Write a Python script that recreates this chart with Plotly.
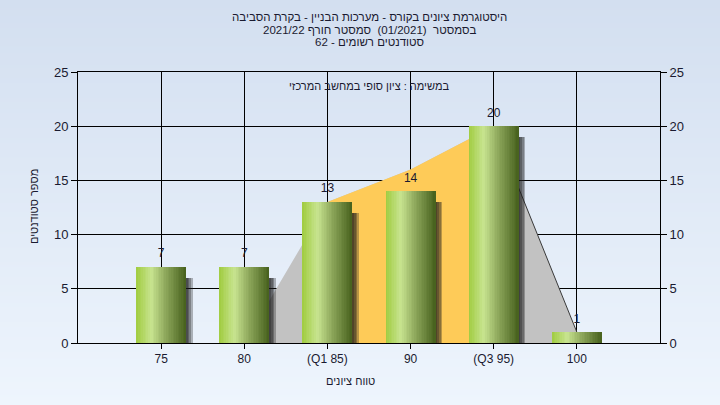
import base64, struct, zlib
import plotly.graph_objects as go

# ---------------- data ----------------
categories = ["75", "80", "(Q1 85)", "90", "(Q3 95)", "100"]
counts = [7, 7, 13, 14, 20, 1]
curve = [0, 0, 13, 16, 20, 1]
quartile_idx = [2, 3, 4]
y_ticks = [0, 5, 10, 15, 20, 25]

RLE, PDF = "\u202b", "\u202c"
title_lines = [
    "היסטוגרמת ציונים בקורס - מערכות הבניין - בקרת הסביבה",
    "בסמסטר  (01/2021)  סמסטר חורף 2021/22",
    "סטודנטים רשומים - 62",
]
subtitle = "במשימה : ציון סופי במחשב המרכזי"
x_title = "טווח ציונים"
y_title = "מספר סטודנטים"

W, H = 720, 405
FONT = "Liberation Sans"
TXT = "#1a1a30"


def rtl(s):
    return RLE + s + PDF


# ---------- background gradient png ----------
def gradient_png(h, top, bot):
    rows = b""
    for i in range(h):
        t = i / (h - 1)
        c = [round(top[k] + (bot[k] - top[k]) * t) for k in range(3)]
        rows += b"\x00" + bytes(c)

    def chunk(tag, data):
        return struct.pack(">I", len(data)) + tag + data + struct.pack(">I", zlib.crc32(tag + data) & 0xffffffff)

    png = b"\x89PNG\r\n\x1a\n"
    png += chunk(b"IHDR", struct.pack(">IIBBBBB", 1, h, 8, 2, 0, 0, 0))
    png += chunk(b"IDAT", zlib.compress(rows))
    png += chunk(b"IEND", b"")
    return "data:image/png;base64," + base64.b64encode(png).decode()


bg_src = gradient_png(H, (211, 223, 240), (238, 245, 253))


def lerp_color(stops, t):
    for (t0, c0), (t1, c1) in zip(stops, stops[1:]):
        if t <= t1:
            f = (t - t0) / (t1 - t0) if t1 > t0 else 0
            return "rgb(%d,%d,%d)" % tuple(round(c0[k] + (c1[k] - c0[k]) * f) for k in range(3))
    return "rgb(%d,%d,%d)" % stops[-1][1]


bar_stops = [(0.0, (160, 204, 64)), (0.3, (200, 228, 144)), (0.6, (140, 166, 90)), (1.0, (70, 96, 28))]

fig = go.Figure()

# area behind bars (main subplot)
fig.add_trace(go.Scatter(x=categories, y=curve, mode="lines", fill="tozeroy",
                         fillcolor="#c2c2c2", line=dict(width=0), hoverinfo="skip", showlegend=False))
fig.add_trace(go.Scatter(x=[categories[i] for i in quartile_idx], y=[curve[i] for i in quartile_idx],
                         mode="lines", fill="tozeroy", fillcolor="#fecb58", line=dict(width=0),
                         hoverinfo="skip", showlegend=False))
fig.add_trace(go.Scatter(x=categories[4:6], y=curve[4:6], mode="lines",
                         line=dict(color="#3a3a3a", width=1), hoverinfo="skip", showlegend=False))

# shadows (overlay subplot, drawn above the areas)
bw = 0.6
shadow_y = [v - 0.7 for v in counts]
for w in [0.12, 0.10, 0.08, 0.06]:
    fig.add_trace(go.Bar(x=categories, y=shadow_y, base=-0.3, offset=bw / 2 - 0.04, width=w,
                         marker=dict(color="rgba(25,25,25,0.3)", line=dict(width=0)),
                         yaxis="y2", hoverinfo="skip", showlegend=False))

# cylinder-like gradient bars
N = 30
for i in range(N):
    t0 = i / N
    fig.add_trace(go.Bar(x=categories, y=counts, offset=-bw / 2 + bw * t0, width=bw * (1 - t0),
                         marker=dict(color=lerp_color(bar_stops, t0 + 0.5 / N), line=dict(width=0)),
                         yaxis="y2", hoverinfo="skip", showlegend=False))

# value labels
fig.add_trace(go.Scatter(x=categories, y=counts, mode="markers+text", text=[str(v) for v in counts],
                         marker=dict(size=9, opacity=0),
                         textposition="top center", textfont=dict(family=FONT, size=12, color=TXT),
                         yaxis="y2", hoverinfo="skip", showlegend=False))

x0, x1 = 78 / W, 660 / W
y0, y1 = 62 / H, 333 / H

ann = []
for line, yp in zip(title_lines, [17, 30, 42]):
    ann.append(dict(text=rtl(line), x=370 / W, y=1 - yp / H, xref="paper", yref="paper",
                    xanchor="center", yanchor="middle", showarrow=False,
                    font=dict(family=FONT, size=11.5, color=TXT)))
ann.append(dict(text=rtl(subtitle), x=369 / W, y=1 - 86 / H, xref="paper", yref="paper",
                xanchor="center", yanchor="middle", showarrow=False,
                font=dict(family=FONT, size=11, color=TXT)))
ann.append(dict(text=rtl(x_title), x=350 / W, y=1 - 381 / H, xref="paper", yref="paper",
                xanchor="center", yanchor="middle", showarrow=False,
                font=dict(family=FONT, size=11, color=TXT)))
ann.append(dict(text=rtl(y_title), x=34 / W, y=1 - 207 / H, xref="paper", yref="paper",
                xanchor="center", yanchor="middle", showarrow=False, textangle=-90,
                font=dict(family=FONT, size=11, color=TXT)))

fig.update_layout(
    template="none",
    width=W, height=H, autosize=False,
    margin=dict(l=0, r=0, t=0, b=0, pad=0, autoexpand=False),
    paper_bgcolor="#e6eef9",
    plot_bgcolor="#b4b4b4",
    barmode="overlay",
    bargap=0,
    showlegend=False,
    images=[dict(source=bg_src, xref="paper", yref="paper", x=0, y=1, sizex=1, sizey=1,
                 sizing="stretch", layer="below")],
    annotations=ann,
    xaxis=dict(type="category", categoryorder="array", categoryarray=categories,
               range=[-1, len(categories)], domain=[x0, x1], automargin=False,
               showgrid=True, gridcolor="black", gridwidth=1,
               showline=True, linecolor="black", linewidth=1, mirror=True,
               ticks="outside", ticklen=5, tickcolor="black", tickwidth=1,
               tickfont=dict(family=FONT, size=12, color=TXT), zeroline=False, fixedrange=True),
    yaxis=dict(range=[0, 25], tickvals=y_ticks, domain=[y0, y1], automargin=False,
               showgrid=True, gridcolor="black", gridwidth=1,
               showline=True, linecolor="black", linewidth=1,
               ticks="outside", ticklen=6, tickcolor="black", tickwidth=1,
               tickfont=dict(family=FONT, size=13, color=TXT), zeroline=False),
    yaxis2=dict(range=[0, 25], tickvals=y_ticks, overlaying="y", side="right", automargin=False,
                showgrid=False, showline=True, linecolor="black", linewidth=1,
                ticks="outside", ticklen=6, tickcolor="black", tickwidth=1,
                tickfont=dict(family=FONT, size=13, color=TXT), zeroline=False),
)

fig.write_html("out.html", config={"displayModeBar": False},
               post_script="document.body.style.margin='0';document.body.style.overflow='hidden';")
